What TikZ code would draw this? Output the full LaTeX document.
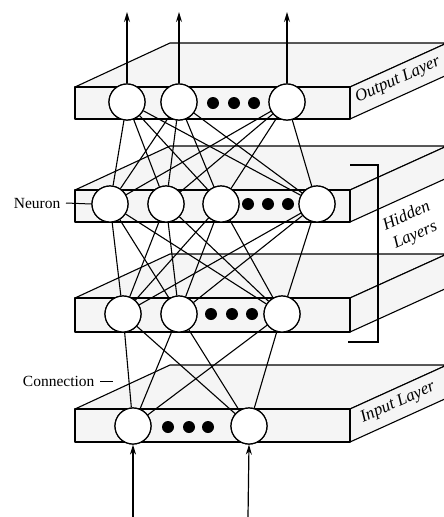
\documentclass[tikz,border=0pt]{standalone}
\usepackage{fontspec}
\setmainfont{Liberation Serif}
\usetikzlibrary{arrows.meta}
% one layer slab: front face, top face and right side face
\newcommand{\layerslab}[2]{%
  \path[slabface] (75,#1) -- (170,#1-44) -- (447,#1-44) -- (350,#1) -- cycle;
  \path[slabface] (350,#1) -- (447,#1-44) -- (447,#2-44) -- (350,#2) -- cycle;
  \path[slabface] (75,#1) rectangle (350,#2);
}
\begin{document}
\begin{tikzpicture}[x=1pt,y=-1pt,line width=1.2pt,
  slabface/.style={draw,line width=1.1pt,fill=black!4,line join=round},
  neuron/.style={circle,draw,line width=1.2pt,fill=white,minimum size=36pt,inner sep=0pt},
  bigdot/.style={circle,fill=black,minimum size=12pt,inner sep=0pt},
  link/.style={line width=1.1pt},
  flow/.style={line width=1.2pt,-{Stealth[length=10pt,width=6pt]}},
  sidelabel/.style={font=\itshape\fontsize{17}{17}\selectfont,rotate=24},
  tag/.style={font=\fontsize{15.5}{15.5}\selectfont}]
\useasboundingbox (0,0) rectangle (444,517);

% layer slabs
\layerslab{87}{119}
\layerslab{190}{222}
\layerslab{298}{332}
\layerslab{409}{442}

% neurons
\node[neuron] (o1) at (127,102) {};
\node[neuron] (o2) at (179,102) {};
\node[neuron] (o3) at (287,102) {};
\node[neuron] (h1) at (110,204) {};
\node[neuron] (h2) at (166,204) {};
\node[neuron] (h3) at (221,204) {};
\node[neuron] (h4) at (317,204) {};
\node[neuron] (g1) at (123,314) {};
\node[neuron] (g2) at (179,314) {};
\node[neuron] (g3) at (282,314) {};
\node[neuron] (i1) at (133,426) {};
\node[neuron] (i2) at (249,426) {};

% connections between neighbouring layers
\foreach \a in {o1,o2,o3} \foreach \b in {h1,h2,h3,h4} \draw[link] (\a) -- (\b);
\foreach \a in {h1,h2,h3,h4} \foreach \b in {g1,g2,g3} \draw[link] (\a) -- (\b);
\foreach \a in {g1,g2,g3} \foreach \b in {i1,i2} \draw[link] (\a) -- (\b);

% redraw neurons above the connections
\foreach \n in {o1,o2,o3,h1,h2,h3,h4,g1,g2,g3,i1,i2}
  \node[neuron] at (\n.center) {};

% ellipsis dots
\foreach \x in {213,234,254} \node[bigdot] at (\x,103) {};
\foreach \x in {248,268,288} \node[bigdot] at (\x,204) {};
\foreach \x in {211,232,252} \node[bigdot] at (\x,314) {};
\foreach \x in {168,189,208} \node[bigdot] at (\x,427) {};

% outputs and inputs
\coordinate (u1) at (127,12);
\coordinate (u2) at (179,12);
\coordinate (u3) at (287,12);
\draw[flow] (o1.north) -- (u1);
\draw[flow] (o2.north) -- (u2);
\draw[flow] (o3.north) -- (u3);
\coordinate (d1) at (133,517);
\coordinate (d2) at (248,517);
\draw[flow] (d1) -- (i1.south);
\draw[flow] (d2) -- (i2.south);

% layer names on the side faces
\node[sidelabel,inner sep=1pt] (outname) at (398,80) {Output Layer};
\node[sidelabel,inner sep=1pt] (inname) at (398,403) {Input Layer};
\node[sidelabel,inner sep=1pt,align=center,font=\itshape\fontsize{17}{21}\selectfont] (hidname) at (411,226) {Hidden\\Layers};

% bracket grouping the hidden layers
\draw[line width=1.3pt] (350,165) -- (378,165) -- (378,342) -- (348,342);

% annotations
\node[tag,anchor=east,inner sep=1pt] (neuronlbl) at (62,203) {Neuron};
\draw[line width=1pt] (neuronlbl.east) ++(4,0) -- (h1.west);
\node[tag,anchor=east,inner sep=1pt] (connlbl) at (96,381) {Connection};
\coordinate (connend) at (113,381);
\draw[line width=1pt] (connlbl.east) ++(4,0) -- (connend);
\end{tikzpicture}
\end{document}
